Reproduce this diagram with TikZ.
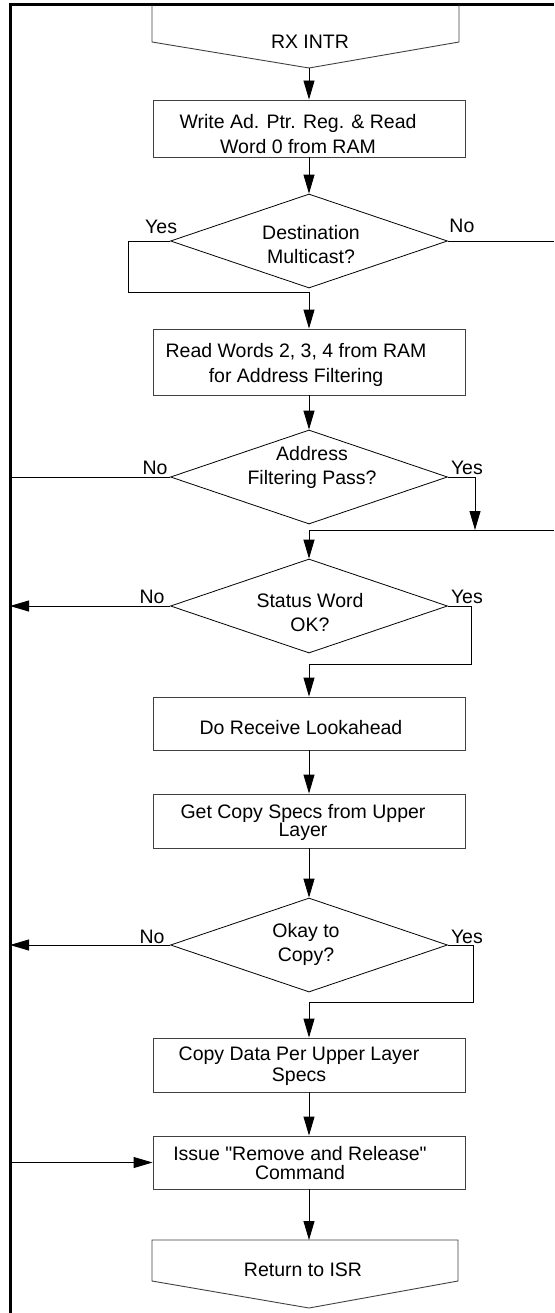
\documentclass[tikz,border=0pt]{standalone}
\usepackage{fontspec}
\setmainfont{Liberation Sans}[Ligatures=TeXOff]
\usetikzlibrary{arrows.meta,calc,shapes.geometric}

\tikzset{
  every node/.style={font=\fontsize{19.5}{25}\selectfont},
  box/.style={draw=black!75, line width=0.9pt, rectangle, minimum width=312pt, inner sep=0pt},
  decide/.style={draw, line width=0.8pt, diamond, minimum width=277pt, minimum height=94pt, aspect=2.94, inner sep=0pt},
  txt/.style={align=center, inner sep=0pt},
  lbl/.style={inner sep=0pt},
  wire/.style={line width=0.9pt},
  arr/.style={wire, -{Triangle[length=19pt,width=11pt]}},
  term/.style={draw=black!75, line width=0.9pt},
  frame/.style={line width=3pt}
}

\begin{document}
\begin{tikzpicture}[x=1pt,y=-1pt]
		%%%%% START %%%%%
		\useasboundingbox (0,0) rectangle (554,1313);
		\draw[frame] (554,5) -- (10,5) -- (10,1313);
		\coordinate (ledge) at (10,0);
		\coordinate (redge) at (554,0);
		
		\draw[term] (152,5) -- (152,42) -- (309,68) coordinate (rxtip) -- (459,42) -- (459,5);
		\node (rx) at (310,42) {RX INTR};
		
		\node[box, minimum height=57pt] (b1) at (309,128.5) {};
		\node[txt] (b1t) at (298,134.5) {Write Ad. Ptr. Reg. \& Read\\Word 0 from RAM};
		\node[decide] (d1) at (309,241) {};
		\node[txt] (d1t) at (311,245) {Destination\\[-1pt]Multicast?};
		\node[box, minimum height=66pt] (b2) at (309,362) {};
		\node[txt] (b2t) at (296,364.5) {Read Words 2, 3, 4 from RAM\\for Address Filtering};
		\node[decide] (d2) at (309,477) {};
		\node[txt] (d2t) at (312,467) {Address\\[-1pt]Filtering Pass?};
		\node[decide] (d3) at (309,606) {};
		\node[txt] (d3t) at (310,613) {Status Word\\[-1pt]OK?};
		\node[box, minimum height=53pt] (b3) at (309,723.5) {};
		\node[txt] (b3t) at (301,728) {Do Receive Lookahead};
		\node[box, minimum height=54pt] (b4) at (309,821) {};
		\node[txt] (b4t) at (303,822) {Get Copy Specs from Upper\\[-7pt]Layer};
		\node[decide] (d4) at (309,945) {};
		\node[txt] (d4t) at (306,944) {Okay to\\[-1pt]Copy?};
		\node[box, minimum height=54pt] (b5) at (309,1065) {};
		\node[txt] (b5t) at (299,1066) {Copy Data Per Upper Layer\\[-4pt]Specs};
		\node[box, minimum height=53pt] (b6) at (309,1162.5) {};
		\node[txt] (b6t) at (300,1163) {Issue "Remove and Release"\\[-6pt]Command};
		
		\draw[term] (152,1240) -- (458,1240) -- (458,1281) -- (309,1308) -- (152,1281) -- cycle;
		\coordinate (rettop) at (309,1240);
		\node (ret) at (303,1270) {Return to ISR};
		
		% yes / no labels
		\node[lbl] (y1) at ($(d1.west)+(-9,-14)$) {Yes};
		\node[lbl] (n1) at ($(d1.east)+(14,-15)$) {No};
		\node[lbl] (n2) at ($(d2.west)+(-15,-9)$) {No};
		\node[lbl] (y2) at ($(d2.east)+(19,-9)$) {Yes};
		\node[lbl] (n3) at ($(d3.west)+(-18,-9)$) {No};
		\node[lbl] (y3) at ($(d3.east)+(19,-9)$) {Yes};
		\node[lbl] (n4) at ($(d4.west)+(-18,-8)$) {No};
		\node[lbl] (y4) at ($(d4.east)+(19,-8)$) {Yes};
		
		% flow
		\draw[arr] (rxtip) -- (b1);
		\draw[arr] (b1) -- (d1);
		\draw[arr] (d1.west) -- ++(-42,0) -- ++(0,51) -| (b2.north);
		\draw[wire] (d1.east) -- (d1.east -| redge);
		\draw[arr] (b2) -- (d2);
		\draw[wire] (d2.west) -- (d2.west -| ledge);
		\coordinate (m3) at (475,530);
		\draw[arr] (d2.east) -| (m3);
		\draw[arr] (redge |- m3) -| (d3.north);
		\draw[arr] (d3.west) -- (d3.west -| ledge);
		\draw[arr] (d3.east) -- ++(24,0) -- ++(0,58) -| (b3.north);
		\draw[arr] (b3) -- (b4);
		\draw[arr] (b4) -- (d4);
		\draw[arr] (d4.west) -- (d4.west -| ledge);
		\draw[arr] (d4.east) -- ++(26,0) -- ++(0,57) -| (b5.north);
		\draw[arr] (b5) -- (b6);
		\draw[arr] (ledge |- b6.west) -- (b6.west);
		\draw[arr] (b6) -- (rettop);
		%%%%% END %%%%%
\end{tikzpicture}
\end{document}
